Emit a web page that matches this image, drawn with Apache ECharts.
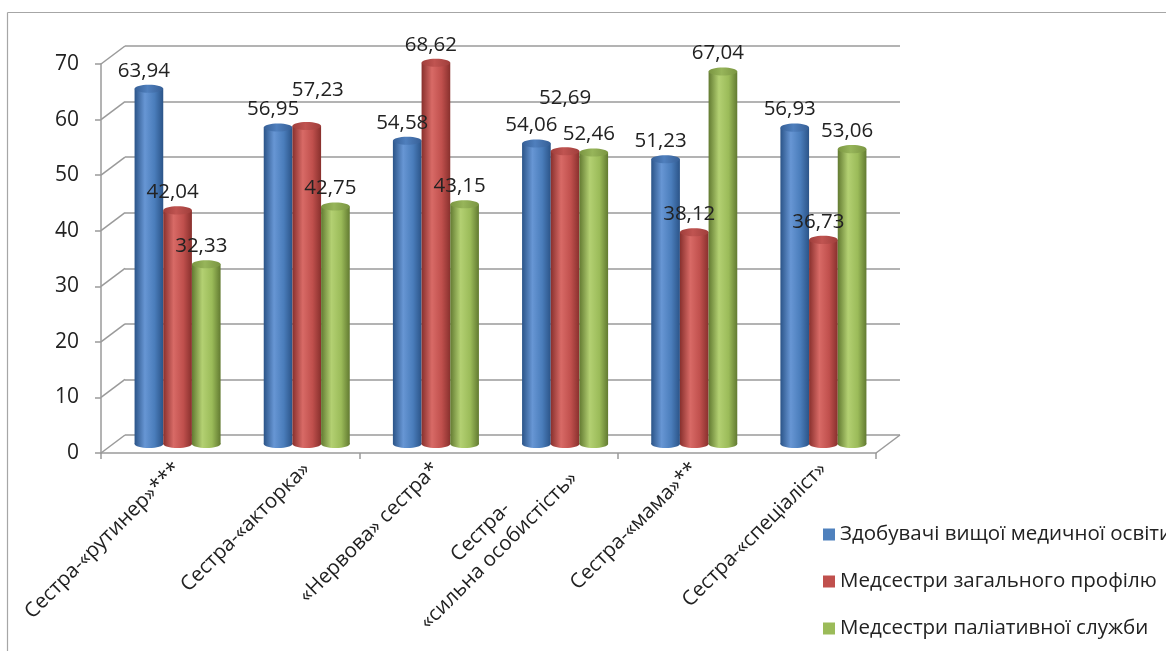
<!DOCTYPE html>
<html>
<head>
<meta charset="utf-8">
<script src="https://cdn.jsdelivr.net/npm/echarts@6/dist/echarts.min.js"></script>
<style>
html,body{margin:0;padding:0;background:#fff;}
#chart{width:1166px;height:651px;}
</style>
</head>
<body>
<div id="chart"></div>
<script>
// ---- data ----
const categories = [
  'Сестра-«рутинер»***',
  'Сестра-«акторка»',
  '«Нервова» сестра*',
  'Сестра-\n«сильна особистість»',
  'Сестра-«мама»**',
  'Сестра-«спеціаліст»'
];
const seriesNames = [
  'Здобувачі вищої медичної освіти',
  'Медсестри загального профілю',
  'Медсестри паліативної служби'
];
const students = [63.94, 56.95, 54.58, 54.06, 51.23, 56.93];
const generalNurses = [42.04, 57.23, 68.62, 52.69, 38.12, 36.73];
const palliativeNurses = [32.33, 42.75, 43.15, 52.46, 67.04, 53.06];
const yTicks = [0, 10, 20, 30, 40, 50, 60, 70];

// ---- styling / geometry ----
const FONT = 'Open Sans';
const TXT = '#222';
const LINE = '#9a9a9a';
const FRONT = {left: 101, top: 64, width: 775, height: 389};
const DX = 24, DY = -18;
const palettes = [
  {dark: '#2b5488', light: '#6796d4', mid: '#4a7dbb', top: '#365f96', topLight: '#4f7fbd', legend: '#4f81bd'},
  {dark: '#88302d', light: '#d86a66', mid: '#c0504d', top: '#9f3e3b', topLight: '#c05451', legend: '#c0504d'},
  {dark: '#627a31', light: '#b3d072', mid: '#9bbb59', top: '#7a9541', topLight: '#97b55a', legend: '#9bbb59'}
];
// extra label shifts for labels Excel moved (series-category)
const labelShift = {'1-1': [16, -18], '1-3': [5, -35]};

const seriesData = [students, generalNurses, palliativeNurses];
const fmt = v => v.toFixed(2).replace('.', ',');

function grad(p) {
  return new echarts.graphic.LinearGradient(0, 0, 1, 0, [
    {offset: 0, color: p.dark}, {offset: 0.36, color: p.light},
    {offset: 0.7, color: p.mid}, {offset: 1, color: p.dark}
  ]);
}
function topGrad(p) {
  return new echarts.graphic.LinearGradient(0, 0, 1, 0, [
    {offset: 0, color: p.top}, {offset: 0.45, color: p.topLight}, {offset: 1, color: p.top}
  ]);
}
function barGeom(api, s) {
  const cat = api.value(0), v = api.value(1);
  const base = api.coord([cat, 0]);
  const top = api.coord([cat, v]);
  const band = api.size([1, 0])[0];
  const w = band * 0.222;
  const cx = base[0] + (s - 1) * w;
  return {cx, w, yb: base[1], yt: top[1]};
}
function cylinder(s) {
  const p = palettes[s];
  return function (params, api) {
    const g = barGeom(api, s);
    const ry = g.w * 0.14;
    return {
      type: 'group',
      children: [
        {type: 'ellipse', shape: {cx: g.cx, cy: g.yb, rx: g.w / 2, ry: ry}, style: {fill: grad(p)}},
        {type: 'rect', shape: {x: g.cx - g.w / 2, y: g.yt, width: g.w, height: g.yb - g.yt}, style: {fill: grad(p)}},
        {type: 'ellipse', shape: {cx: g.cx, cy: g.yt, rx: g.w / 2, ry: ry}, style: {fill: topGrad(p)}}
      ]
    };
  };
}

const series = seriesData.map((arr, s) => ({
  name: seriesNames[s],
  type: 'custom',
  xAxisIndex: 0, yAxisIndex: 0,
  itemStyle: {color: palettes[s].legend},
  renderItem: cylinder(s),
  encode: {x: 0, y: 1},
  data: arr.map((v, i) => [i, v]),
  z: 3, silent: true
}));

// data labels
const labelData = [];
seriesData.forEach((arr, s) => arr.forEach((v, i) => labelData.push([i, v, s])));
series.push({
  type: 'custom', name: 'labels',
  xAxisIndex: 0, yAxisIndex: 0, z: 10, silent: true,
  encode: {x: 0, y: 1},
  data: labelData,
  renderItem: function (params, api) {
    const s = api.value(2), cat = api.value(0);
    const g = barGeom(api, s);
    const sh = labelShift[s + '-' + cat] || [0, 0];
    return {
      type: 'text',
      x: g.cx - 5 + sh[0], y: g.yt - 18 + sh[1],
      style: {text: fmt(api.value(1)), fontFamily: FONT, fontSize: 20.5, fill: TXT,
              align: 'center', verticalAlign: 'middle'}
    };
  }
});

// perspective connectors (wall/floor diagonals) from tick values
series.push({
  type: 'custom', name: 'walls',
  xAxisIndex: 2, yAxisIndex: 2, z: 1, silent: true,
  encode: {x: 0, y: 1},
  data: yTicks.map(t => [0, t]),
  renderItem: function (params, api) {
    const t = api.value(1);
    const y = api.coord([0, t])[1];
    const cs = params.coordSys;
    const ch = [{type: 'line', shape: {x1: cs.x, y1: y, x2: cs.x - DX, y2: y - DY},
                 style: {stroke: LINE, lineWidth: 1.5}}];
    if (t === 0) {
      ch.push({type: 'line', shape: {x1: cs.x + cs.width, y1: y, x2: cs.x + cs.width - DX, y2: y - DY},
               style: {stroke: LINE, lineWidth: 1.5}});
    }
    return {type: 'group', children: ch};
  }
});

const mkGrid = (dx, dy) => ({left: FRONT.left + dx, top: FRONT.top + dy, width: FRONT.width, height: FRONT.height});
const yBase = {type: 'value', min: 0, max: 70, interval: 10};

const option = {
  animation: false,
  backgroundColor: '#fff',
  grid: [mkGrid(DX / 2, DY / 2), mkGrid(0, 0), mkGrid(DX, DY)],
  xAxis: [
    {type: 'category', gridIndex: 0, data: categories,
     axisLine: {show: false}, axisTick: {show: false}, splitLine: {show: false},
     axisLabel: {show: true, rotate: 45, margin: 22, interval: 0,
       formatter: v => v.split('\n').map(l => '{c|' + l + '}').join('\n'),
       rich: {c: {align: 'center', fontFamily: FONT, fontSize: 20.5, color: TXT, lineHeight: 26}}}},
    {type: 'category', gridIndex: 1, data: categories,
     axisLine: {show: true, lineStyle: {color: LINE, width: 1.5}},
     axisTick: {show: true, length: 6, lineStyle: {color: LINE, width: 1.5}},
     axisLabel: {show: false}, splitLine: {show: false}},
    {type: 'category', gridIndex: 2, data: categories, show: false}
  ],
  yAxis: [
    Object.assign({gridIndex: 0, show: false}, yBase),
    Object.assign({gridIndex: 1,
      axisLine: {show: true, lineStyle: {color: LINE, width: 1.5}},
      axisTick: {show: true, length: 6, lineStyle: {color: LINE, width: 1.5}},
      axisLabel: {fontFamily: FONT, fontSize: 21, color: TXT, margin: 22, padding: [5, 0, 0, 0]},
      splitLine: {show: false}}, yBase),
    Object.assign({gridIndex: 2,
      axisLine: {show: false}, axisTick: {show: false}, axisLabel: {show: false},
      splitLine: {show: true, lineStyle: {color: LINE, width: 1.5}}}, yBase)
  ],
  legend: {
    orient: 'vertical', left: 818, top: 519,
    data: seriesNames, icon: 'rect', itemWidth: 12, itemHeight: 12, itemGap: 26,
    textStyle: {fontFamily: FONT, fontSize: 20.5, color: TXT, lineHeight: 21},
    selectedMode: false
  },
  graphic: [
    {type: 'line', shape: {x1: 7.5, y1: 12.5, x2: 1166, y2: 12.5}, style: {stroke: '#a6a6a6', lineWidth: 1.2}, silent: true},
    {type: 'line', shape: {x1: 7.5, y1: 12.5, x2: 7.5, y2: 651}, style: {stroke: '#a6a6a6', lineWidth: 1.2}, silent: true}
  ],
  series: series
};

const chart = echarts.init(document.getElementById('chart'), null, {renderer: 'canvas'});
chart.setOption(option);
</script>
</body>
</html>
